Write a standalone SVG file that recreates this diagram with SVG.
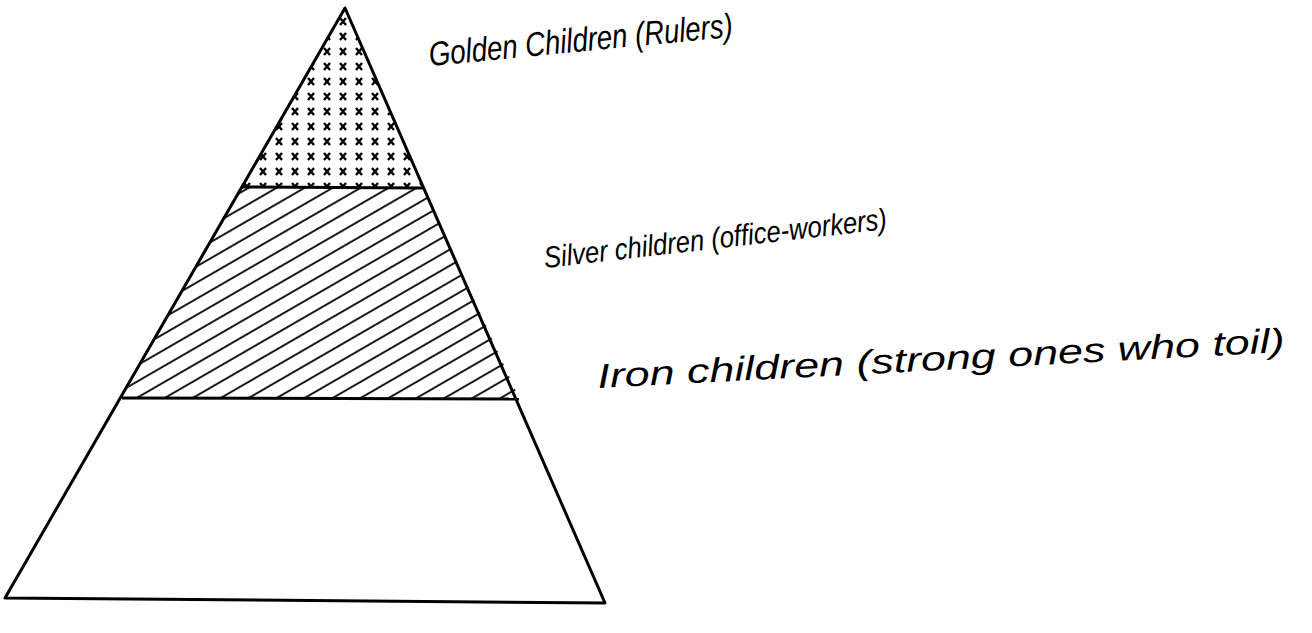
<svg xmlns="http://www.w3.org/2000/svg" width="1312" height="633" viewBox="0 0 1312 633">
  <defs>
    <pattern id="xmarks" width="16" height="15" patternUnits="userSpaceOnUse">
      <path d="M4,3 L10,10 M10,3 L4,10" stroke="#000" stroke-width="2.4" fill="none"/>
    </pattern>
    <pattern id="hatch" width="14" height="14" patternUnits="userSpaceOnUse" patternTransform="rotate(-30)">
      <line x1="0" y1="7" x2="14" y2="7" stroke="#000" stroke-width="1.8"/>
    </pattern>
  </defs>
  <style>
    .outline { fill: none; stroke: #000; stroke-width: 3; stroke-linejoin: round; }
    .label { font-family: "Liberation Sans", "DejaVu Sans", sans-serif; font-style: italic; fill: #000; }
  </style>
  <rect width="1312" height="633" fill="#fff"/>

  <g id="golden">
    <polygon points="345,10 242,187 423,187" fill="url(#xmarks)"/>
    <text class="label" x="430" y="66" font-size="34" textLength="305" lengthAdjust="spacingAndGlyphs" transform="rotate(-5.5 430 66)">Golden Children (Rulers)</text>
  </g>

  <g id="silver">
    <polygon points="242,187 423,187 519,398 122,398" fill="url(#hatch)"/>
    <text class="label" x="545" y="268" font-size="30" textLength="345" lengthAdjust="spacingAndGlyphs" transform="rotate(-6.5 545 268)">Silver children (office-workers)</text>
  </g>

  <g id="iron">
    <text class="label" x="598" y="388" font-size="34" textLength="688" lengthAdjust="spacingAndGlyphs" transform="rotate(-3 598 388)">Iron children (strong ones who toil)</text>
  </g>

  <g id="connectors">
    <polygon class="outline" points="345,8 5,598 605,603"/>
    <line class="outline" x1="242" y1="187" x2="423" y2="188"/>
    <line class="outline" x1="122" y1="398" x2="519" y2="399"/>
  </g>
</svg>
